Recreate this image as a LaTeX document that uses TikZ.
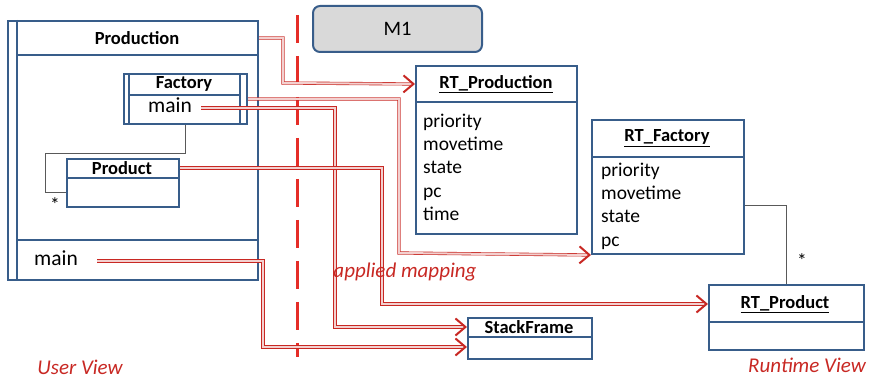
\documentclass[tikz,border=0pt]{standalone}
\usepackage{fontspec}
\setmainfont{Carlito}
\usepackage{tikz}
\usetikzlibrary{arrows.meta, positioning, calc}

\definecolor{umlblue}{RGB}{56,93,138}
\definecolor{mapred}{RGB}{200,40,35}
\definecolor{seqred}{RGB}{229,45,39}
\definecolor{boxgray}{RGB}{217,217,217}

\tikzset{
  cls/.style={draw=umlblue, line width=2pt, inner sep=0pt, anchor=north west},
  clsline/.style={draw=umlblue, line width=2pt},
  ttl/.style={font=\fontsize{18.5}{22}\selectfont\bfseries, inner sep=0pt},
  attr/.style={font=\fontsize{19.5}{23}\selectfont, inner sep=0pt, anchor=base west},
  opname/.style={font=\fontsize{21.5}{25}\selectfont, inner sep=0pt, anchor=base west},
  view/.style={font=\fontsize{21}{25}\selectfont\itshape, text=mapred, inner sep=0pt},
  assoc/.style={draw=black!65, line width=0.8pt},
  map/.style={draw=mapred, double=mapred!22, double distance=2pt, line width=0.6pt,
    -{Straight Barb[length=10pt, width=17pt, line width=2pt]}},
  sep/.style={draw=seqred, line width=3pt, dash pattern=on 28pt off 13pt}
}

\begin{document}
\begin{tikzpicture}[x=1pt, y=-1pt]
  \useasboundingbox (0,0) rectangle (871,379);

  % user view
  \node[cls, minimum width=250pt, minimum height=259pt] (production) at (7,20) {};
  \draw[clsline] (17,20) -- (17,279);
  \draw[clsline] (17,55) -- (257,55);
  \draw[clsline] (17,240) -- (257,240);
  \node[ttl] (productionT) at (137,38) {Production};
  \node[opname] (pmain) at (34,266) {main};

  \node[cls, minimum width=123pt, minimum height=50pt] (factory) at (123,73) {};
  \draw[clsline] (129,73) -- (129,123);
  \draw[clsline] (240,73) -- (240,123);
  \draw[clsline] (129,95) -- (240,95);
  \node[ttl] (factoryT) at (184,84) {Factory};
  \node[opname] (fmain) at (148,113) {main};

  \node[cls, minimum width=112pt, minimum height=48pt] (product) at (66,158) {};
  \draw[clsline] (66,178) -- (178,178);
  \node[ttl] (productT) at (122,168) {Product};

  \draw[assoc] (factory.south) -- ++(0,28) -| (45,192) -- (product.west |- 45,192);
  \node[attr, anchor=center] (pstar) at (55,205) {*};

  % boundary
  \draw[sep] (297,15) -- (297,357);
  \node[draw=umlblue, line width=2pt, fill=boxgray, rounded corners=7pt,
    minimum width=169pt, minimum height=46pt, anchor=north west,
    font=\fontsize{20.5}{24}\selectfont] (mone) at (312,5) {M1};

  % runtime view
  \node[cls, minimum width=161pt, minimum height=168pt] (rtproduction) at (415,65) {};
  \draw[clsline] (415,102) -- (576,102);
  \node[ttl] (rtproductionT) at (496,84) {\underline{RT\_Production}};
  \node[attr] at (423,128) {priority};
  \node[attr] at (423,151) {movetime};
  \node[attr] at (423,174) {state};
  \node[attr] at (423,198) {pc};
  \node[attr] at (423,221) {time};

  \node[cls, minimum width=152pt, minimum height=134pt] (rtfactory) at (591,119) {};
  \draw[clsline] (591,157) -- (743,157);
  \node[ttl] (rtfactoryT) at (667,138) {\underline{RT\_Factory}};
  \node[attr] at (601,177) {priority};
  \node[attr] at (601,200) {movetime};
  \node[attr] at (601,223) {state};
  \node[attr] at (601,247) {pc};

  \node[cls, minimum width=155pt, minimum height=65pt] (rtproduct) at (708,284) {};
  \draw[clsline] (708,322) -- (863,322);
  \node[ttl] (rtproductT) at (785,304) {\underline{RT\_Product}};

  \node[cls, minimum width=124pt, minimum height=41pt] (stackframe) at (467,317) {};
  \draw[clsline] (467,337) -- (591,337);
  \node[ttl] (sfT) at (529,327) {StackFrame};
  \coordinate (sfB) at (529,347);

  \draw[assoc] (rtfactory.east |- 0,205) -| (rtproduct.north);
  \node[attr, anchor=center] (rstar) at (802,261) {*};

  % mappings
  \draw[map] (productionT -| production.east) -| (283,83) -- (rtproductionT -| rtproduction.west);
  \draw[map] (factory.east) -| (399,253) -- (rtfactory.south west);
  \draw[map] ([xshift=9pt]fmain.east |- 0,108) -| (335,327) -- (sfT -| stackframe.west);
  \draw[map] (productT -| product.east) -| (382,304) -- (rtproductT -| rtproduct.west);
  \draw[map] ([xshift=19pt]pmain.east |- 0,261) -| (263,347) -- (sfB -| stackframe.west);

  \node[view] (mapping) at (405,272) {applied mapping};
  \node[view] (userview) at (80,367) {User View};
  \node[view] (rtview) at (807,365) {Runtime View};
\end{tikzpicture}
\end{document}
